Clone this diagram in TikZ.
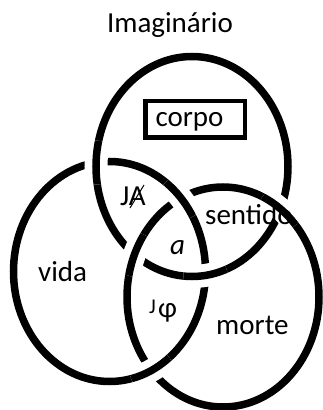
\documentclass[tikz,border=0pt]{standalone}
\usepackage{fontspec}
\setmainfont{Carlito}
\usetikzlibrary{intersections}
\begin{document}
\begin{tikzpicture}[x=1pt,y=1pt,
  ring/.style={line width=7.5pt, black},
  gapw/.style={line width=23pt, white},
  lbl/.style={font=\fontsize{29}{35}\selectfont, inner sep=0pt, anchor=base},
  small/.style={font=\fontsize{21}{25}\selectfont, inner sep=0pt, anchor=base west},
  box/.style={draw, line width=4.5pt, minimum width=99.5, minimum height=36.5, inner sep=0pt}
  ]
\useasboundingbox (0,0) rectangle (322,410);
\coordinate (cT) at (192,243.5);
\coordinate (cV) at (109.5,138.5);
\coordinate (cM) at (223,113);
\draw[ring, name path=T] (cT) ellipse [x radius=96, y radius=110];
\draw[ring, name path=V] (cV) ellipse [x radius=96, y radius=110];
\draw[ring, name path=M] (cM) ellipse [x radius=96, y radius=110];
\path[name intersections={of=T and V, name=tv}];
\path[name intersections={of=V and M, name=vm}];
\path[name intersections={of=M and T, name=mt}];
% Imaginario over vida
\foreach \i in {1,2}{
  \begin{scope}
    \clip (tv-\i) circle (22);
    \draw[gapw] (cT) ellipse [x radius=96, y radius=110];
    \draw[ring] (cT) ellipse [x radius=96, y radius=110];
  \end{scope}
}
% vida over morte
\foreach \i in {1,2}{
  \begin{scope}
    \clip (vm-\i) circle (22);
    \draw[gapw] (cV) ellipse [x radius=96, y radius=110];
    \draw[ring] (cV) ellipse [x radius=96, y radius=110];
  \end{scope}
}
% morte over imaginario
\foreach \i in {1,2}{
  \begin{scope}
    \clip (mt-\i) circle (22);
    \draw[gapw] (cM) ellipse [x radius=96, y radius=110];
    \draw[ring] (cM) ellipse [x radius=96, y radius=110];
  \end{scope}
}
\node[lbl] (imag) at (170,377) {Imaginário};
\node[box] (box) at (195.3,290.7) {};
\node[lbl] (corpo) at (189.5,283) {corpo};
\node[lbl, anchor=base west] (sentido) at (205,185) {sentido};
\node[lbl, anchor=base west] (vida) at (38,128) {vida};
\node[lbl, anchor=base west] (morte) at (216,75) {morte};
\node[lbl] (a) at (177.5,155) {\itshape a};
\node[lbl, anchor=base west] (ja) at (120,204) {JA};
\coordinate (s1) at (130,202);
\coordinate (s2) at (144,225);
\draw[line width=1pt] (s1) -- (s2);
\node[small] (j2) at (149,96) {J};
\node[lbl, anchor=base west] (phi) at (158,92) {φ};
\end{tikzpicture}
\end{document}
